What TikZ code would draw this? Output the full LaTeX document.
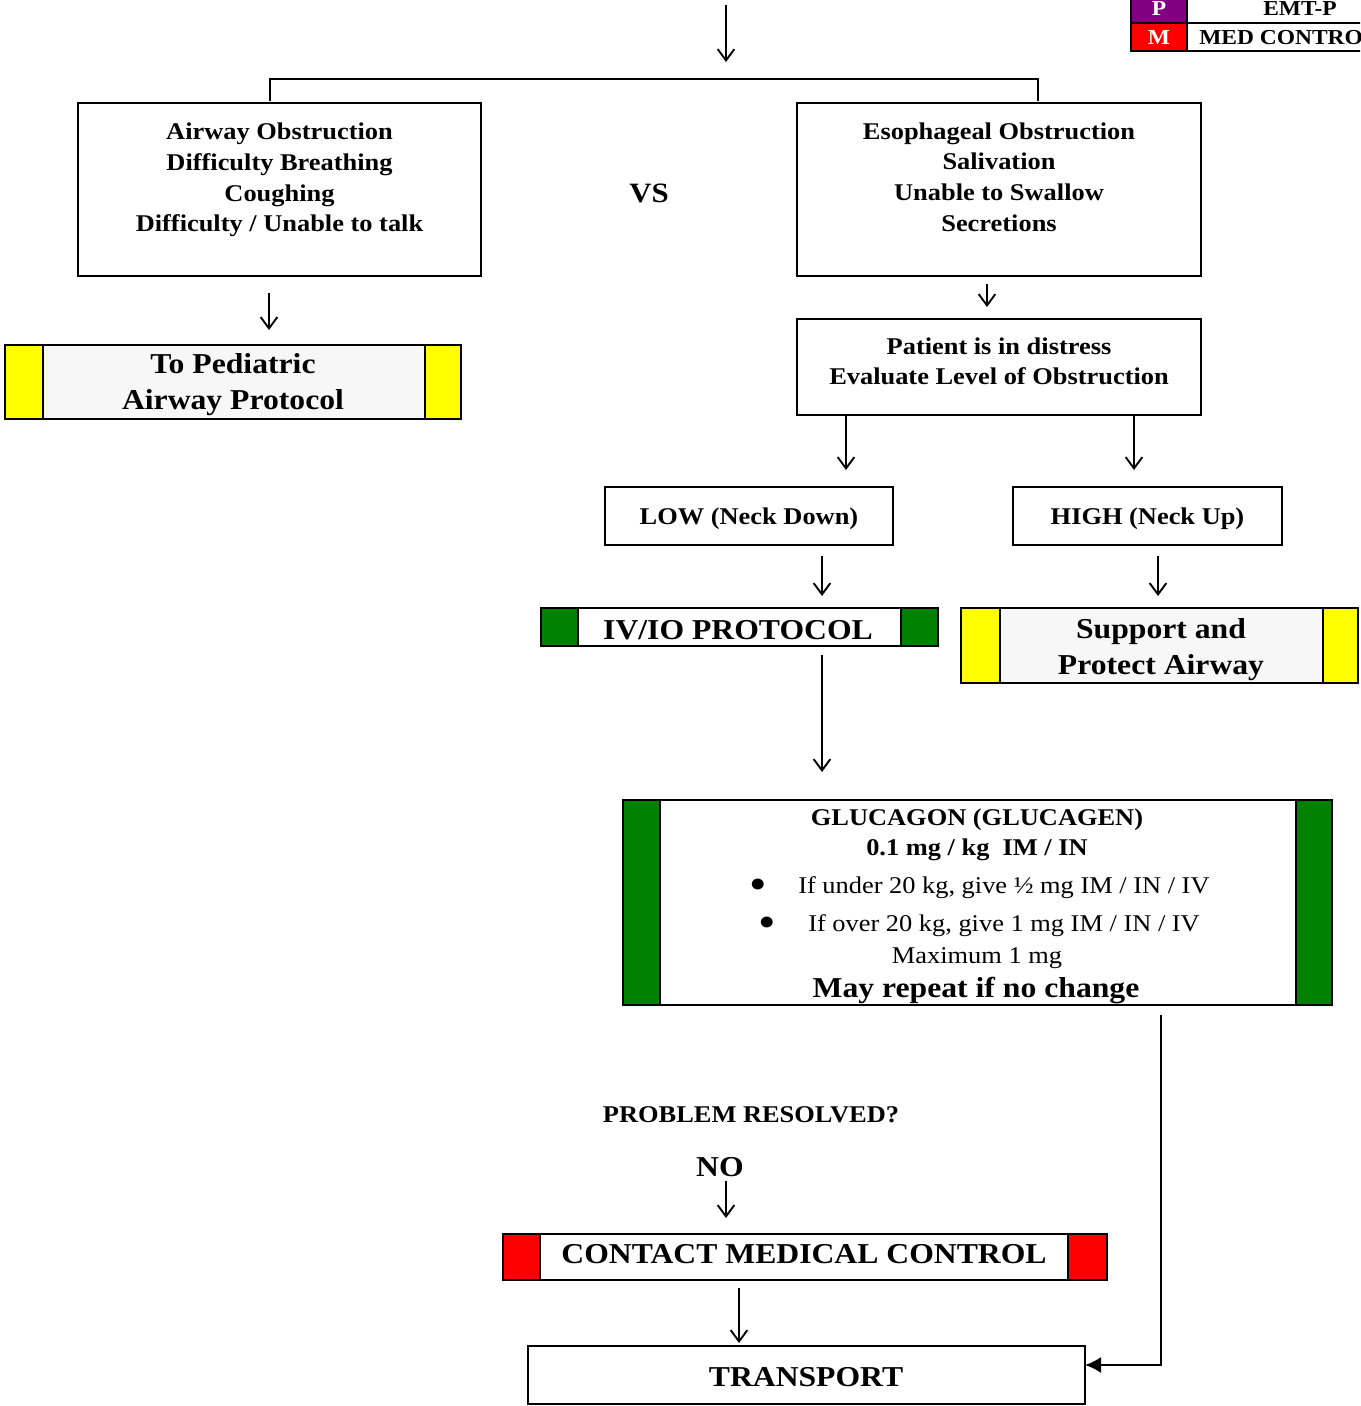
\documentclass[tikz,border=0pt]{standalone}
\usepackage{fontspec}
\setmainfont{Liberation Serif}[FakeStretch=1.1]
\usetikzlibrary{arrows.meta,calc,fit}

\definecolor{cpurple}{RGB}{128,0,128}
\definecolor{cred}{RGB}{255,0,0}
\definecolor{cgreen}{RGB}{0,128,0}
\definecolor{cyellow}{RGB}{255,255,0}
\definecolor{cpale}{RGB}{247,247,247}

\newcommand\fmain{\fontsize{18}{23}\selectfont\bfseries}
\newcommand\fplain{\fontsize{18}{23}\selectfont}
\newcommand\flarge{\fontsize{21.6}{27}\selectfont\bfseries}
\newcommand\flegend{\fontsize{16}{19}\selectfont\bfseries}

% coloured side bars, then the frame and the two dividers
\newcommand\sidebars[4]{%
  \fill[#2] (#1.north west) rectangle ($(#1.south west)+(#3,0)$);
  \fill[#2] (#1.north east) rectangle ($(#1.south east)+(-#4,0)$);
  \draw[edge] ($(#1.north west)+(#3,0)$) -- ($(#1.south west)+(#3,0)$);
  \draw[edge] ($(#1.north east)+(-#4,0)$) -- ($(#1.south east)+(-#4,0)$);
  \draw[edge] (#1.north west) rectangle (#1.south east);}

\tikzset{
  edge/.style={line width=1.5pt, black},
  frame/.style={inner sep=0pt, outer sep=0pt},
  boxed/.style={frame, draw, line width=1.5pt},
  tx/.style={inner sep=0pt, yshift=-2.2pt},
  txt/.style={tx, align=center, font=\fmain},
  big/.style={tx, align=center, font=\flarge},
  plain/.style={tx, font=\fplain},
  bul/.style={tx, font=\fontsize{34}{34}\selectfont},
  arr/.style={line width=1.4pt, -{Straight Barb[length=8.5pt,width=12.5pt,line width=1.4pt]}},
  farr/.style={line width=1.4pt, -{Latex[length=12pt,width=12pt]}},
}

\begin{document}
\begin{tikzpicture}[x=0.75pt,y=-0.75pt]
\useasboundingbox (0,0) rectangle (1360,1406);

% ---- legend (top right) ----
\begin{scope}
  \clip (0,0) rectangle (1360,1406);
  \fill[cpurple] (1131,-6) rectangle (1187,23);
  \fill[cred] (1131,23) rectangle (1187,51);
  \draw[line width=2.2pt] (1131,-6) rectangle (1400,51);
  \draw[line width=2.2pt] (1131,23) -- (1400,23);
  \draw[line width=2.2pt] (1187,-6) -- (1187,51);
  \node[inner sep=0pt, text=white, font=\flegend] (lp) at (1159,9) {P};
  \node[inner sep=0pt, text=white, font=\flegend] (lm) at (1159,38) {M};
  \node[inner sep=0pt, font=\flegend] (lemt) at (1300,9) {EMT-P};
  \node[inner sep=0pt, font=\flegend, anchor=west] (lmed) at (1199,38) {MED CONTROL};
\end{scope}

% ---- boxes ----
\node[boxed, fit={(78,103) (481,276)}] (a) {};
\node[boxed, fit={(797,103) (1201,276)}] (b) {};
\node[frame, fill=cpale, fit={(5,345) (461,419)}] (ped) {};
\sidebars{ped}{cyellow}{38}{36}
\node[boxed, fit={(797,319) (1201,415)}] (dist) {};
\node[boxed, fit={(605,487) (893,545)}] (low) {};
\node[boxed, fit={(1013,487) (1282,545)}] (high) {};
\node[frame, fill=white, fit={(541,608) (938,646)}] (iv) {};
\sidebars{iv}{cgreen}{37}{37}
\node[frame, fill=cpale, fit={(961,608) (1358,683)}] (sup) {};
\sidebars{sup}{cyellow}{39}{35}
\node[frame, fill=white, fit={(623,800) (1332,1005)}] (glu) {};
\sidebars{glu}{cgreen}{37}{36}
\node[frame, fill=white, fit={(503,1234) (1107,1280)}] (cmc) {};
\sidebars{cmc}{cred}{37}{39}
\node[boxed, fit={(528,1346) (1085,1404)}] (tr) {};

% ---- texts ----
\node[txt] (atxt) at (279.5,177) {Airway Obstruction\\Difficulty Breathing\\Coughing\\Difficulty / Unable to talk};
\node[txt] (btxt) at (999,174) {Esophageal Obstruction\\Salivation\\Unable to Swallow\\Secretions};
\node[tx, font=\fontsize{21}{24}\selectfont\bfseries] (vs) at (649,191) {VS};
\node[big] (pedtxt) at (233,382) {To Pediatric\\Airway Protocol};
\node[txt] (disttxt) at (999,358.5) {Patient is in distress\\Evaluate Level of Obstruction};
\node[txt] (lowtxt) at (749,516) {LOW (Neck Down)};
\node[txt] (hightxt) at (1147.5,516) {HIGH (Neck Up)};
\node[big] (ivtxt) at (738,627) {IV/IO PROTOCOL};
\node[big] (suptxt) at (1161,647) {Support and\\Protect Airway};

\node[txt] (g1) at (977,817) {GLUCAGON (GLUCAGEN)};
\node[txt] (g2) at (977,847) {0.1 mg / kg\ \ IM / IN};
\node[bul] (bul1) at (758,886.5) {•};
\node[plain, anchor=west] (g3) at (798,885) {If under 20 kg, give ½ mg IM / IN / IV};
\node[bul] (bul2) at (767,924.5) {•};
\node[plain, anchor=west] (g4) at (808,923) {If over 20 kg, give 1 mg IM / IN / IV};
\node[plain] (g5) at (977,955) {Maximum 1 mg};
\node[big] (g6) at (976,988) {May repeat if no change};

\node[txt] (prob) at (751,1112) {PROBLEM RESOLVED?};
\node[big] (no) at (720,1164) {NO};
\node[big] (cmctxt) at (804,1251) {CONTACT MEDICAL CONTROL};
\node[big] (trtxt) at (806,1374) {TRANSPORT};

% ---- connectors ----
\coordinate (entry) at (726,5);
\coordinate (entryend) at (726,62);
\draw[arr] (entry) -- (entryend);
\draw[edge, line width=1.4pt] ($(a.north)+(-9.5,-2)$) -- ++(0,-22) -| ($(b.north)+(39,-2)$);
\draw[arr] ($(a.south)+(-10.5,17)$) -- ($(ped.north)+(36,-15)$);
\draw[arr] ($(b.south)+(-12,8)$) -- ($(dist.north)+(-12,-12)$);
\draw[arr] ($(dist.south)+(-153,0)$) -- ($(low.north)+(97,-17)$);
\draw[arr] ($(dist.south)+(135,0)$) -- ($(high.north)+(-13.5,-17)$);
\draw[arr] ($(low.south)+(73,11)$) -- ($(iv.north)+(82.5,-12)$);
\draw[arr] ($(high.south)+(10.5,11)$) -- ($(sup.north)+(-1.5,-12)$);
\draw[arr] ($(iv.south)+(82.5,9)$) -- ($(glu.north)+(-155.5,-28)$);
\draw[farr] ($(glu.south)+(183.5,10)$) |- ($(tr.east)+(0,-10)$);
\draw[arr] ($(no.south)+(6,4)$) -- ($(cmc.north)+(-79,-16)$);
\draw[arr] ($(cmc.south)+(-66,8)$) -- ($(tr.north)+(-67.5,-3)$);
\end{tikzpicture}
\end{document}
